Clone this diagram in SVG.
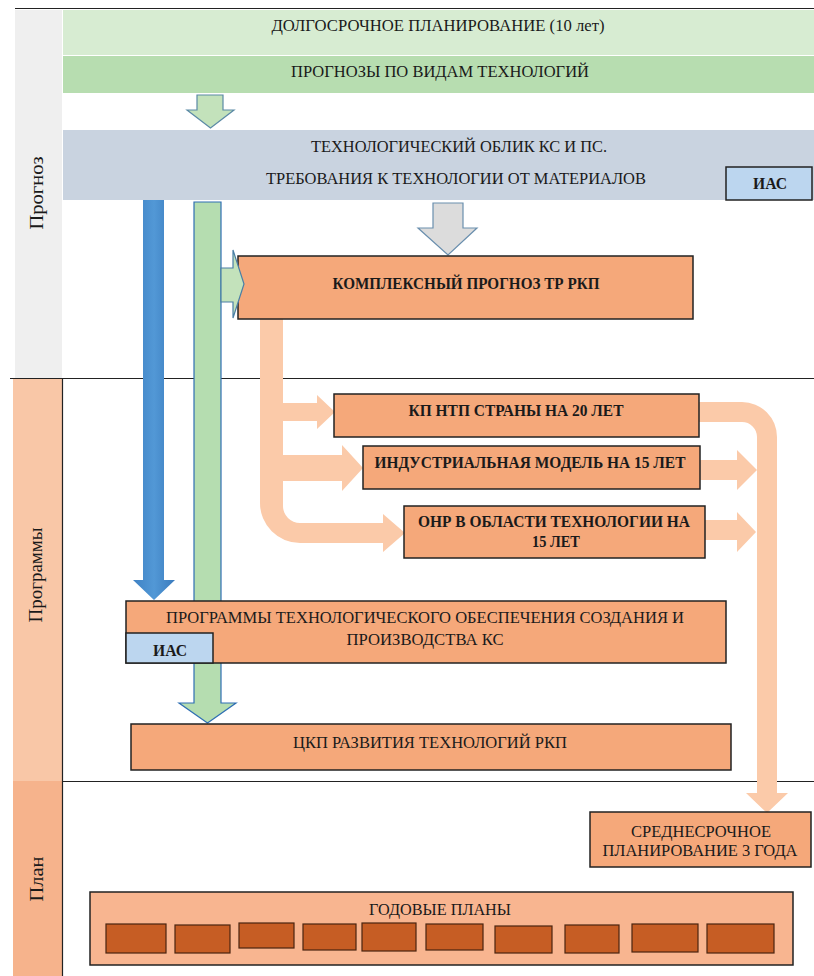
<svg xmlns="http://www.w3.org/2000/svg" width="814" height="976" viewBox="0 0 814 976">
<defs>
<linearGradient id="blueG" x1="0" y1="0" x2="1" y2="0">
<stop offset="0" stop-color="#3f82c4"/><stop offset="0.5" stop-color="#5298d6"/><stop offset="1" stop-color="#3a7bbd"/>
</linearGradient>
<style>
.t{font-family:"Liberation Serif","DejaVu Serif",serif;fill:#1a1a1a;text-anchor:middle;}
.r{font-size:16.5px;}
.b{font-size:17px;font-weight:bold;}
.side{font-family:"Liberation Serif","DejaVu Serif",serif;font-size:18px;fill:#1a1a1a;text-anchor:middle;}
.box{fill:#f5a87a;stroke:#222;stroke-width:1.5;}
.ias{fill:#bcd6ef;stroke:#222;stroke-width:1.5;}
.yr{fill:#c65d24;stroke:#4a2410;stroke-width:1.2;}
.peach{fill:#fbcaa9;}
.grid{stroke:#222;stroke-width:1.2;fill:none;}
</style>
</defs>
<rect width="814" height="976" fill="#ffffff"/>

<g id="bands">
<rect x="15" y="10" width="47" height="368" fill="#efefef"/>
<rect x="13" y="378" width="49" height="403" fill="#f9c7a7"/>
<rect x="13" y="781" width="49" height="195" fill="#f6b38c"/>
<text class="side" transform="translate(43,193) rotate(-90)" textLength="73" lengthAdjust="spacingAndGlyphs">Прогноз</text>
<text class="side" transform="translate(42,575) rotate(-90)" textLength="95" lengthAdjust="spacingAndGlyphs">Программы</text>
<text class="side" transform="translate(43,879) rotate(-90)" textLength="45" lengthAdjust="spacingAndGlyphs">План</text>
</g>

<g id="grid">
<line class="grid" x1="15" y1="8.5" x2="814" y2="8.5"/>
<line class="grid" x1="10" y1="378.5" x2="814" y2="378.5"/>
<line class="grid" x1="62.5" y1="378" x2="62.5" y2="976"/>
<line class="grid" x1="62" y1="781.5" x2="814" y2="781.5"/>
</g>

<g id="long-term">
<rect x="63" y="10" width="751" height="45" fill="#d7ecd2"/>
<text class="t r" x="438" y="31" textLength="333" lengthAdjust="spacingAndGlyphs">ДОЛГОСРОЧНОЕ ПЛАНИРОВАНИЕ (10 лет)</text>
</g>
<g id="forecasts">
<rect x="63" y="56" width="751" height="37" fill="#b7ddb0"/>
<text class="t r" x="440" y="77" textLength="298" lengthAdjust="spacingAndGlyphs">ПРОГНОЗЫ ПО ВИДАМ ТЕХНОЛОГИЙ</text>
</g>
<g id="tech-outlook">
<rect x="63" y="130" width="751" height="70" fill="#c9d3e0"/>
<text class="t r" x="459" y="152" textLength="296" lengthAdjust="spacingAndGlyphs">ТЕХНОЛОГИЧЕСКИЙ ОБЛИК КС И ПС.</text>
<text class="t r" x="456" y="184" textLength="380" lengthAdjust="spacingAndGlyphs">ТРЕБОВАНИЯ К ТЕХНОЛОГИИ ОТ МАТЕРИАЛОВ</text>
</g>
<g id="ias-top">
<rect class="ias" x="726" y="167" width="86" height="33"/>
<text class="t b" x="770" y="189" font-size="15" textLength="34" lengthAdjust="spacingAndGlyphs">ИАС</text>
</g>

<g id="connectors">
<path d="M197,95 H223 V110 H234 L210.5,128 L187,110 H197 Z" fill="#c3e2bb" stroke="#5b8aa6" stroke-width="1.2"/>
<path d="M433,203 H463 V228 H477 L448,255 L418,228 H433 Z" fill="#dcdcdc" stroke="#6a8fae" stroke-width="1.2"/>
<path d="M143,200 H164 V580 H175 L154,600 L133,580 H143 Z" fill="url(#blueG)"/>
<path d="M194,202 H221 V703 H236 L207.5,723 L179,703 H194 Z" fill="#b5ddb0" stroke="#2f6fb3" stroke-width="1.2"/>
<path class="peach" d="M260,319 H283 V403 H317 V395 L335,412 L317,429 V421 H283 V455 H342 V445 L363,468 L342,491 V481 H283 V506 A17,17 0 0 0 300,523 H383 V514 L405,533 L383,552 V543 H300 A40,40 0 0 1 260,503 Z"/>
<path class="peach" d="M699,402 H742 A35,35 0 0 1 777,437 V793 H788 L767,813 L746,793 H757 V437 A15,15 0 0 0 742,422 H699 Z"/>
<path class="peach" d="M700,460 H737 V450 L757,470 L737,490 V480 H700 Z"/>
<path class="peach" d="M705,520 H737 V512 L756,532 L737,552 V540 H705 Z"/>
</g>

<g id="complex-forecast">
<rect class="box" x="238" y="256" width="455" height="63"/>
<text class="t b" x="466" y="289" textLength="267" lengthAdjust="spacingAndGlyphs">КОМПЛЕКСНЫЙ ПРОГНОЗ ТР РКП</text>
</g>
<g id="green-small-arrow">
<path d="M221,268 H233 V250 L244,284 L233,318 V302 H221 Z" fill="#c3e2bb" stroke="#4a7fa6" stroke-width="1.2"/>
</g>

<g id="kp-ntp">
<rect class="box" x="334" y="394" width="365" height="43"/>
<text class="t b" x="516" y="416" textLength="215" lengthAdjust="spacingAndGlyphs">КП НТП СТРАНЫ НА 20 ЛЕТ</text>
</g>
<g id="industrial-model">
<rect class="box" x="363" y="446" width="337" height="43"/>
<text class="t b" x="530" y="468" textLength="311" lengthAdjust="spacingAndGlyphs">ИНДУСТРИАЛЬНАЯ МОДЕЛЬ НА 15 ЛЕТ</text>
</g>
<g id="onr">
<rect class="box" x="404" y="506" width="301" height="52"/>
<text class="t b" x="554" y="527" textLength="272" lengthAdjust="spacingAndGlyphs">ОНР В ОБЛАСТИ ТЕХНОЛОГИИ НА</text>
<text class="t b" x="556" y="547" textLength="48" lengthAdjust="spacingAndGlyphs">15 ЛЕТ</text>
</g>

<g id="programs">
<rect class="box" x="126" y="601" width="600" height="62"/>
<text class="t r" x="425" y="623" textLength="518" lengthAdjust="spacingAndGlyphs">ПРОГРАММЫ ТЕХНОЛОГИЧЕСКОГО ОБЕСПЕЧЕНИЯ СОЗДАНИЯ И</text>
<text class="t r" x="425" y="645" textLength="157" lengthAdjust="spacingAndGlyphs">ПРОИЗВОДСТВА КС</text>
</g>
<g id="ias-bottom">
<rect class="ias" x="126" y="633" width="87" height="30"/>
<text class="t b" x="170" y="656" font-size="15" textLength="34" lengthAdjust="spacingAndGlyphs">ИАС</text>
</g>

<g id="ckp">
<rect class="box" x="131" y="724" width="600" height="46"/>
<text class="t r" x="430" y="748" textLength="274" lengthAdjust="spacingAndGlyphs">ЦКП РАЗВИТИЯ ТЕХНОЛОГИЙ РКП</text>
</g>

<g id="mid-term">
<rect class="box" x="590" y="812" width="221" height="55"/>
<text class="t r" x="701" y="837" textLength="140" lengthAdjust="spacingAndGlyphs">СРЕДНЕСРОЧНОЕ</text>
<text class="t r" x="700" y="856" textLength="195" lengthAdjust="spacingAndGlyphs">ПЛАНИРОВАНИЕ 3 ГОДА</text>
</g>

<g id="annual-plans">
<rect x="90" y="892" width="703" height="73" fill="#f8b590" stroke="#222" stroke-width="1.5"/>
<text class="t r" x="440" y="915" textLength="142" lengthAdjust="spacingAndGlyphs">ГОДОВЫЕ ПЛАНЫ</text>
<rect class="yr" x="106" y="924" width="60" height="29"/>
<rect class="yr" x="175" y="925" width="55" height="28"/>
<rect class="yr" x="239" y="923" width="55" height="25"/>
<rect class="yr" x="303" y="924" width="53" height="26"/>
<rect class="yr" x="362" y="923" width="54" height="28"/>
<rect class="yr" x="426" y="924" width="57" height="26"/>
<rect class="yr" x="495" y="926" width="57" height="27"/>
<rect class="yr" x="565" y="925" width="54" height="28"/>
<rect class="yr" x="632" y="924" width="66" height="28"/>
<rect class="yr" x="707" y="924" width="67" height="29"/>
</g>
</svg>
